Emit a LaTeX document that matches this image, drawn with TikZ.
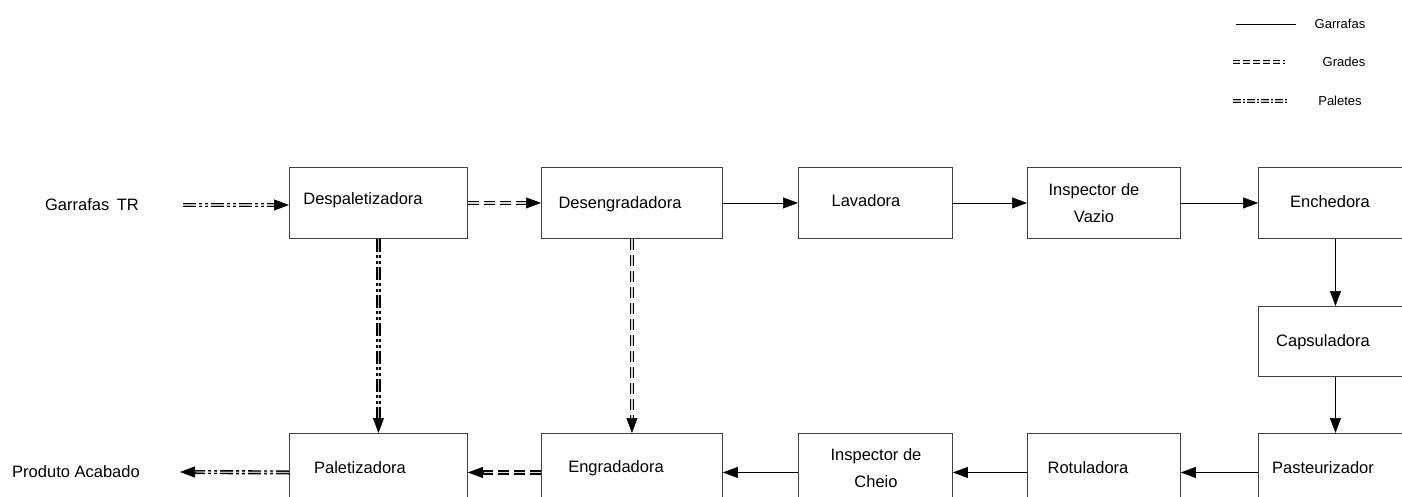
\documentclass[tikz,border=0pt]{standalone}
\usepackage{fontspec}
\setmainfont{Liberation Sans}
\usetikzlibrary{arrows.meta}
\begin{document}
\begin{tikzpicture}[x=1pt,y=-1pt,
  box/.style={draw=black!75, line width=0.9pt, anchor=north west, inner sep=0pt},
  lbl/.style={font=\fontsize{16.5}{27}\selectfont, inner sep=0pt, align=center},
  leg/.style={font=\fontsize{13}{15}\selectfont, inner sep=0pt},
  garr/.style={draw=black, line width=0.7pt},
  tip/.style={-{Triangle[length=15pt,width=11pt]}, line width=0.7pt},
  grades/.style={draw=black, line width=1.3pt, double=gray!30, double distance=1.6pt, dash pattern=on 11pt off 5pt},
  paletes/.style={draw=black, line width=1.4pt, double=gray!50, double distance=1.3pt, dash pattern=on 13pt off 3pt on 3pt off 3pt on 3pt off 3pt}
]
\useasboundingbox (0,0) rectangle (1402,497);
% boxes
\node[box, minimum width=178pt, minimum height=71pt] (desp) at (289,167) {};
\node[box, minimum width=181pt, minimum height=71pt] (deseng) at (541,167) {};
\node[box, minimum width=154pt, minimum height=71pt] (lav) at (798,167) {};
\node[box, minimum width=153pt, minimum height=71pt] (insv) at (1027,167) {};
\node[box, minimum width=154pt, minimum height=71pt] (ench) at (1258,167) {};
\node[box, minimum width=154pt, minimum height=70pt] (caps) at (1258,306) {};
\node[box, minimum width=154pt, minimum height=78pt] (past) at (1258,433) {};
\node[box, minimum width=153pt, minimum height=78pt] (rot) at (1027,433) {};
\node[box, minimum width=154pt, minimum height=78pt] (insc) at (798,433) {};
\node[box, minimum width=181pt, minimum height=78pt] (engr) at (541,433) {};
\node[box, minimum width=178pt, minimum height=78pt] (palet) at (289,433) {};
% labels
\node[lbl] (tdesp) at (363,200) {Despaletizadora};
\node[lbl] (tdeseng) at (620,204) {Desengradadora};
\node[lbl] (tlav) at (866,201) {Lavadora};
\node[lbl] (tinsv) at (1094,203) {Inspector de\\Vazio};
\node[lbl] (tench) at (1330,202) {Enchedora};
\node[lbl] (tcaps) at (1323,342) {Capsuladora};
\node[lbl] (tpast) at (1323,468) {Pasteurizador};
\node[lbl] (trot) at (1088,468) {Rotuladora};
\node[lbl] (tinsc) at (876,468) {Inspector de\\Cheio};
\node[lbl] (tengr) at (616,468) {Engradadora};
\node[lbl] (tpalet) at (360,468) {Paletizadora};
\node[lbl] (tin) at (92,205) {Garrafas\hspace{3pt} TR};
\node[lbl] (tout) at (76,472) {Produto Acabado};
% free ends
\coordinate (inS) at (183,205);
\coordinate (outE) at (180,472);
% solid (Garrafas) connectors
\draw[garr, tip] (deseng.east) -- (lav.west);
\draw[garr, tip] (lav.east) -- (insv.west);
\draw[garr, tip] (insv.east) -- (ench.west);
\draw[garr, tip] (ench.south) -- (caps.north);
\draw[garr, tip] (caps.south) -- (past.north);
\draw[garr, tip] (past.west) -- (rot.east);
\draw[garr, tip] (rot.west) -- (insc.east);
\draw[garr, tip] (insc.west) -- (engr.east);
% Paletes connectors
\draw[paletes, shorten >=14pt] (inS) -- (inS -| desp.west);
\draw[tip] ([xshift=-15pt]inS -| desp.west) -- (inS -| desp.west);
\draw[paletes, shorten >=14pt] (desp.south) -- (palet.north);
\draw[tip] ([yshift=15pt]palet.north) -- (palet.north);
\draw[paletes, shorten >=14pt] (palet.west) -- (outE);
\draw[tip] ([xshift=15pt]outE) -- (outE);
% Grades connectors
\draw[grades, shorten >=14pt] (desp.east) -- (deseng.west);
\draw[tip] ([xshift=-15pt]deseng.west) -- (deseng.west);
\draw[grades, shorten >=14pt] (deseng.south) -- (engr.north);
\draw[tip] ([yshift=15pt]engr.north) -- (engr.north);
\draw[grades, shorten >=14pt] (engr.west) -- (palet.east);
\draw[tip] ([xshift=15pt]palet.east) -- (palet.east);
% legend
\coordinate (lg1a) at (1236,24); \coordinate (lg1b) at (1296,24);
\coordinate (lg2a) at (1233,62); \coordinate (lg2b) at (1285,62);
\coordinate (lg3a) at (1233,101); \coordinate (lg3b) at (1287,101);
\draw[garr] (lg1a) -- (lg1b);
\draw[grades, line width=1pt, double distance=1.2pt, dash pattern=on 7pt off 3pt] (lg2a) -- (lg2b);
\draw[paletes, line width=1pt, double distance=1.2pt, dash pattern=on 8pt off 2pt on 2pt off 2pt] (lg3a) -- (lg3b);
\node[leg] (l1) at (1340,24) {Garrafas};
\node[leg] (l2) at (1344,62) {Grades};
\node[leg] (l3) at (1340,101) {Paletes};
\end{tikzpicture}
\end{document}
